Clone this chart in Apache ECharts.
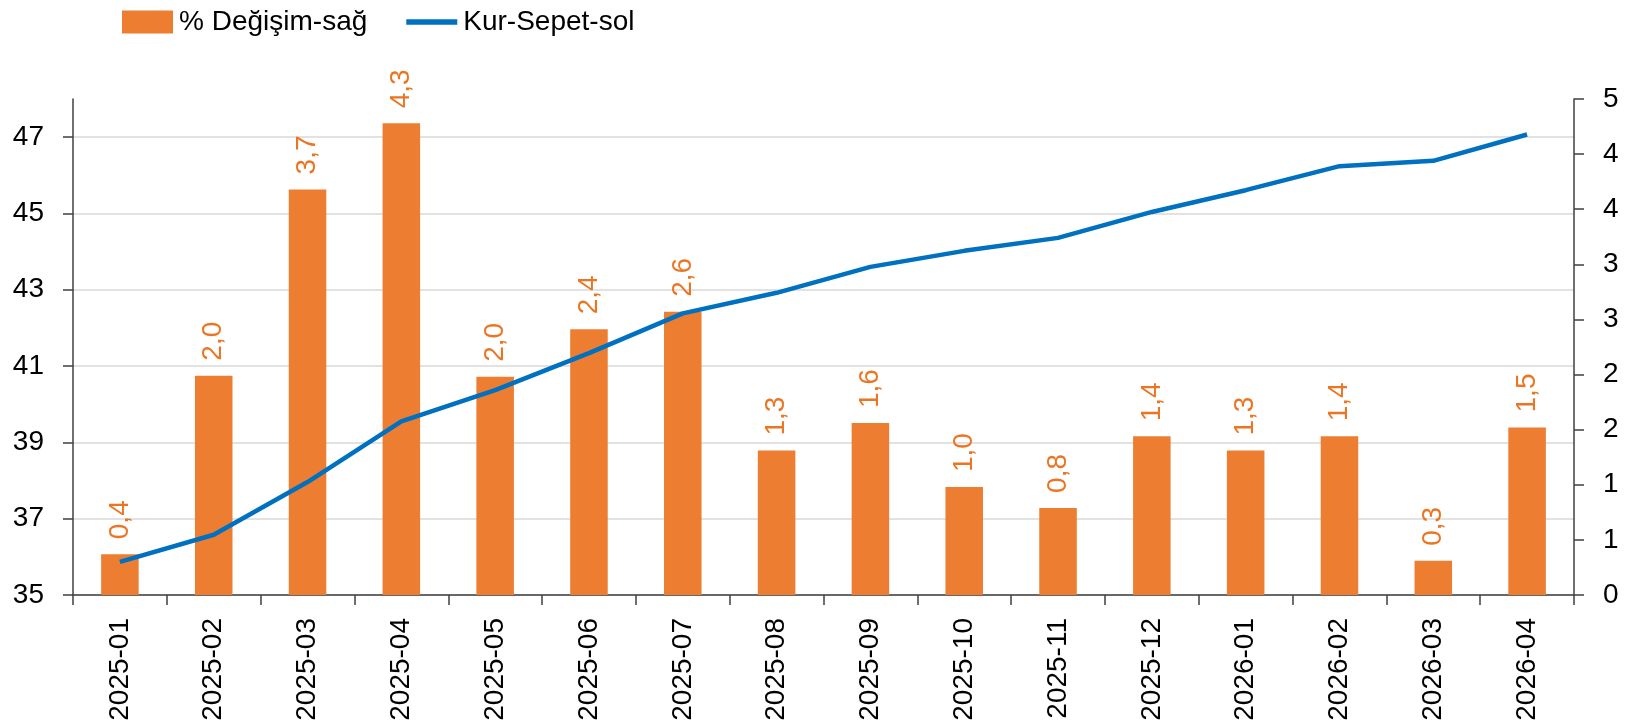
<!DOCTYPE html>
<html>
<head>
<meta charset="utf-8">
<script src="https://cdn.jsdelivr.net/npm/echarts@6/dist/echarts.min.js"></script>
<style>
html,body{margin:0;padding:0;background:#fff;}
#chart{width:1636px;height:727px;}
</style>
</head>
<body>
<div id="chart"></div>
<script>
const categories = ['2025-01','2025-02','2025-03','2025-04','2025-05','2025-06','2025-07','2025-08','2025-09','2025-10','2025-11','2025-12','2026-01','2026-02','2026-03','2026-04'];
const changePct = [0.37, 1.99, 3.68, 4.28, 1.98, 2.41, 2.57, 1.31, 1.56, 0.98, 0.79, 1.44, 1.31, 1.44, 0.31, 1.52];
const basket = [35.87, 36.58, 37.96, 39.55, 40.37, 41.34, 42.38, 42.92, 43.60, 44.02, 44.36, 45.04, 45.61, 46.24, 46.38, 47.07];
const leftTicks = [35, 37, 39, 41, 43, 45, 47];
const seriesNames = ['% Değişim-sağ', 'Kur-Sepet-sol'];

const FONT = "'Liberation Sans', Arial, sans-serif";
const chart = echarts.init(document.getElementById('chart'), null, {renderer: 'canvas'});
chart.setOption({
  animation: false,
  backgroundColor: '#ffffff',
  textStyle: {fontFamily: FONT},
  legend: {
    top: 8, left: 122, padding: 0,
    itemWidth: 51, itemHeight: 23, itemGap: 39,
    textStyle: {fontFamily: FONT, fontSize: 28, color: '#000', padding: [0, 0, 0, 1]},
    data: [
      {name: seriesNames[0], icon: 'rect'},
      {name: seriesNames[1], icon: 'path://M0,0L50,0L50,5.5L0,5.5Z'}
    ]
  },
  grid: {left: 73, right: 62, top: 99, bottom: 132, containLabel: false},
  xAxis: {
    type: 'category',
    data: categories,
    axisLine: {show: true, lineStyle: {color: '#404040', width: 1.5}},
    axisTick: {show: true, length: 10, alignWithLabel: false, lineStyle: {color: '#404040', width: 1.5}},
    axisLabel: {rotate: 90, margin: 23, fontSize: 28, color: '#000', fontFamily: FONT}
  },
  yAxis: [
    {
      type: 'value', position: 'left', min: 35, max: 48,
      axisLine: {show: true, lineStyle: {color: '#404040', width: 1.5}},
      axisTick: {show: true, length: 10, customValues: leftTicks, lineStyle: {color: '#404040', width: 1.5}},
      axisLabel: {customValues: leftTicks, margin: 29, fontSize: 28, color: '#000', fontFamily: FONT},
      splitLine: {show: true, lineStyle: {color: '#d9d9d9', width: 1.5}}
    },
    {
      type: 'value', position: 'right', min: 0, max: 4.5, interval: 0.5,
      axisLine: {show: true, lineStyle: {color: '#404040', width: 1.5}},
      axisTick: {show: true, length: 10, lineStyle: {color: '#404040', width: 1.5}},
      axisLabel: {margin: 29, fontSize: 28, color: '#000', fontFamily: FONT, formatter: v => String(Math.round(v))},
      splitLine: {show: false}
    }
  ],
  series: [
    {
      name: seriesNames[0], type: 'bar', yAxisIndex: 1, data: changePct,
      barWidth: '40%',
      itemStyle: {color: '#ED7D31'},
      label: {
        show: true, position: 'top', rotate: 90, align: 'left', verticalAlign: 'middle',
        distance: 15, fontSize: 28, color: '#EB7522', fontFamily: FONT,
        formatter: p => p.value.toFixed(1).replace('.', ',')
      },
      z: 2
    },
    {
      name: seriesNames[1], type: 'line', yAxisIndex: 0, data: basket,
      symbol: 'none', showSymbol: false,
      lineStyle: {color: '#0070C0', width: 4.5},
      itemStyle: {color: '#0070C0'},
      z: 3
    }
  ]
});
</script>
</body>
</html>
